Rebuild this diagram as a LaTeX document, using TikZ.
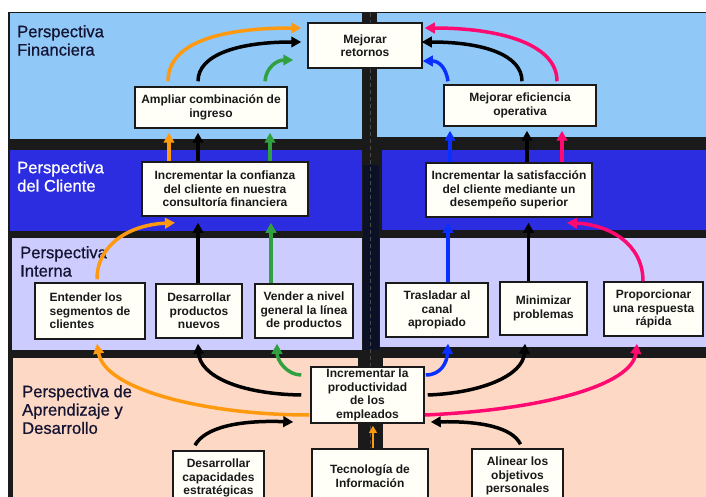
\documentclass[tikz,border=0pt]{standalone}
\usepackage{fontspec}
\setmainfont{Liberation Sans}
\newfontfamily\labfont[FakeBold=0.7]{Liberation Sans}
\usetikzlibrary{arrows.meta,calc}
\definecolor{skyb}{HTML}{90C8F8}
\definecolor{deepb}{HTML}{2C2CE0}
\definecolor{lav}{HTML}{CCCCFF}
\definecolor{peach}{HTML}{FDD8C4}
\definecolor{frame}{HTML}{1A1A1A}
\definecolor{navyc}{HTML}{0B1126}
\definecolor{dashc}{HTML}{4A4A4A}
\definecolor{ora}{HTML}{FF9A10}
\definecolor{grn}{HTML}{30A040}
\definecolor{blu}{HTML}{0A30FF}
\definecolor{pnk}{HTML}{FF0A70}
\definecolor{boxfill}{HTML}{FFFFF8}
\definecolor{labdark}{HTML}{141432}
\begin{document}
\begin{tikzpicture}[x=1pt,y=-1pt,
  box/.style={draw=frame, line width=1.5pt, fill=boxfill, inner xsep=2pt, inner ysep=2pt, align=center,
    font=\bfseries\fontsize{12}{13.5}\selectfont, text=black!90},
  lab/.style={anchor=north west, inner sep=0pt, align=left, font=\labfont\fontsize{16.6}{18.3}\selectfont},
  conn/.style={line width=3.5pt, -{Triangle[length=10pt,width=10.5pt]}},
  smallconn/.style={line width=2.6pt, -{Triangle[length=7pt,width=7.5pt]}},
]
\useasboundingbox (0,0) rectangle (706,497);
\clip (0,0) rectangle (706,497);
\fill[white] (0,0) rectangle (706,497);
\fill[frame] (8,12) rectangle (706,497);
% panels
\fill[skyb] (10,13) rectangle (362,139);
\fill[skyb] (377,13) rectangle (706,137);
\fill[deepb] (10,150) rectangle (362,231);
\fill[deepb] (382,150) rectangle (706,230);
\fill[lav] (12,238) rectangle (362,350);
\fill[lav] (380,238) rectangle (706,347);
\fill[peach] (13,358) rectangle (358,497);
\fill[peach] (383,358) rectangle (706,497);
\fill[navyc] (363,165) rectangle (379,350);
\draw[dashc, line width=1pt, dash pattern=on 4pt off 3pt] (370,13) -- (370,497);

% labels
\node[lab, text=labdark] (lf) at (17,25) {Perspectiva\\Financiera};
\node[lab, text=white] (lc) at (17,161) {Perspectiva\\del Cliente};
\node[lab, text=labdark] (li) at (20,246) {Perspectiva\\Interna};
\node[lab, text=labdark] (la) at (22,385) {Perspectiva de\\Aprendizaje y\\Desarrollo};

% boxes
\node[box, minimum width=114pt, minimum height=45pt] (ret) at (365,45.5) {Mejorar\\retornos};
\node[box, minimum width=152pt, minimum height=41pt] (ampl) at (211,107.5) {Ampliar combinación de\\ingreso};
\node[box, minimum width=152pt, minimum height=41pt] (efic) at (520,105.5) {Mejorar eficiencia\\operativa};
\node[box, minimum width=166pt, minimum height=54pt] (conf) at (225,189) {Incrementar la confianza\\del cliente en nuestra\\consultoría financiera};
\node[box, minimum width=166pt, minimum height=54pt] (sat) at (509,190) {Incrementar la satisfacción\\del cliente mediante un\\desempeño superior};
\node[box, align=left, minimum width=110pt, minimum height=56pt] (ent) at (90,311) {Entender los\\segmentos de\\clientes};
\node[box, minimum width=86pt, minimum height=54pt] (desp) at (199,311) {Desarrollar\\productos\\nuevos};
\node[box, minimum width=98pt, minimum height=54pt] (vend) at (304,311) {Vender a nivel\\general la línea\\de productos};
\node[box, minimum width=102pt, minimum height=54pt] (tras) at (437,310) {Trasladar al\\canal\\apropiado};
\node[box, minimum width=87pt, minimum height=53pt] (mini) at (543.5,308.5) {Minimizar\\problemas};
\node[box, minimum width=99pt, minimum height=54pt] (prop) at (653.5,309) {Proporcionar\\una respuesta\\rápida};
\node[box, inner ysep=0pt, minimum width=113pt, minimum height=56pt] (prod) at (367.5,395) {Incrementar la\\productividad\\de los\\empleados};
\node[box, minimum width=91pt, minimum height=54pt] (desc) at (218.5,478) {Desarrollar\\capacidades\\estratégicas};
\node[box, minimum width=116pt, minimum height=54pt] (tec) at (370,476) {Tecnología de\\Información};
\node[box, minimum width=91pt, minimum height=54pt] (alin) at (517.5,476) {Alinear los\\objetivos\\personales};

% financial row
\draw[conn, ora] ($(ampl.north)+(-43,-5)$) .. controls +(0,-42) and +(-72,0) .. ($(ret.west)+(-6,-17.5)$);
\draw[conn, black] ($(ampl.north)+(-13,-5)$) .. controls +(0,-27) and +(-62,0) .. ($(ret.west)+(-6,-3.5)$);
\draw[conn, grn] ($(ampl.north)+(54,-5)$) .. controls +(1,-14) and +(-16,0) .. ($(ret.west)+(-14,14.5)$);
\draw[conn, blu] ($(efic.north)+(-72,-3)$) .. controls +(-2,-14) and +(16,0) .. ($(ret.east)+(0,15.5)$);
\draw[conn, black] ($(efic.north)+(2,-3)$) .. controls +(0,-27) and +(60,0) .. ($(ret.east)+(-1,-3.5)$);
\draw[conn, pnk] ($(efic.north)+(37,-3)$) .. controls +(0,-37) and +(76,0) .. ($(ret.east)+(2,-17.5)$);

% client -> financial
\draw[conn, ora] ($(conf.north)+(-56,0)$) -- ($(ampl.south)+(-42,4)$);
\draw[conn, black] ($(conf.north)+(-27,0)$) -- ($(ampl.south)+(-13,4)$);
\draw[conn, grn] ($(conf.north)+(45,0)$) -- ($(ampl.south)+(59,4)$);
\draw[conn, blu] ($(sat.north)+(-59,0)$) -- ($(efic.south)+(-70,4)$);
\draw[conn, black] ($(sat.north)+(18,0)$) -- ($(efic.south)+(7,4)$);
\draw[conn, pnk] ($(sat.north)+(53,0)$) -- ($(efic.south)+(42,4)$);

% internal -> client
\draw[conn, black] ($(desp.north)+(-1,0)$) -- ($(conf.south)+(-27,6)$);
\draw[conn, grn] ($(vend.north)+(-33,0)$) -- ($(conf.south)+(46,6)$);
\draw[conn, blu] ($(tras.north)+(11,0)$) -- ($(sat.south)+(-61,5)$);
\draw[conn, black] ($(mini.north)+(-15,0)$) -- ($(sat.south)+(19.5,5)$);
\draw[conn, ora] ($(ent.north)+(7,-3)$) .. controls +(0,-35) and +(-45,2) .. ($(conf.south)+(-50,6)$);
\draw[conn, pnk] ($(prop.north)+(-10.5,0)$) .. controls +(0,-37) and +(43,2) .. ($(sat.south)+(58,5)$);

% learning -> internal
\draw[conn, grn] ($(prod.west)+(-9,-20)$) .. controls +(-14,0) and +(0,17) .. ($(vend.south)+(-27,5)$);
\draw[conn, black] ($(prod.west)+(-9,0)$) .. controls +(-62,-1) and +(2,32) .. ($(desp.south)+(-1,5)$);
\draw[conn, ora] ($(prod.west)+(-1,20)$) .. controls +(-100,0) and +(8,47) .. ($(ent.south)+(7,4)$);
\draw[conn, blu] ($(prod.east)+(1,-20)$) .. controls +(15,0) and +(-1,19) .. ($(tras.south)+(11,6)$);
\draw[conn, black] ($(prod.east)+(3,0)$) .. controls +(53,-2) and +(-2,32) .. ($(mini.south)+(-18.5,8)$);
\draw[conn, pnk] ($(prod.east)+(0,20)$) .. controls +(116,-5) and +(-5,42) .. ($(prop.south)+(-16.5,7)$);

% bottom -> productivity
\draw[conn, black] ($(desc.north)+(-23.5,-5)$) .. controls +(10,-18) and +(-54,-2) .. ($(prod.west)+(-17,27)$);
\draw[conn, black] ($(alin.north)+(3,-4)$) .. controls +(-8.5,-17) and +(50,-1) .. ($(prod.east)+(6,27)$);
\draw[smallconn, ora] ($(tec.north)+(3,0)$) -- ($(prod.south)+(5.5,2)$);
\end{tikzpicture}
\end{document}
